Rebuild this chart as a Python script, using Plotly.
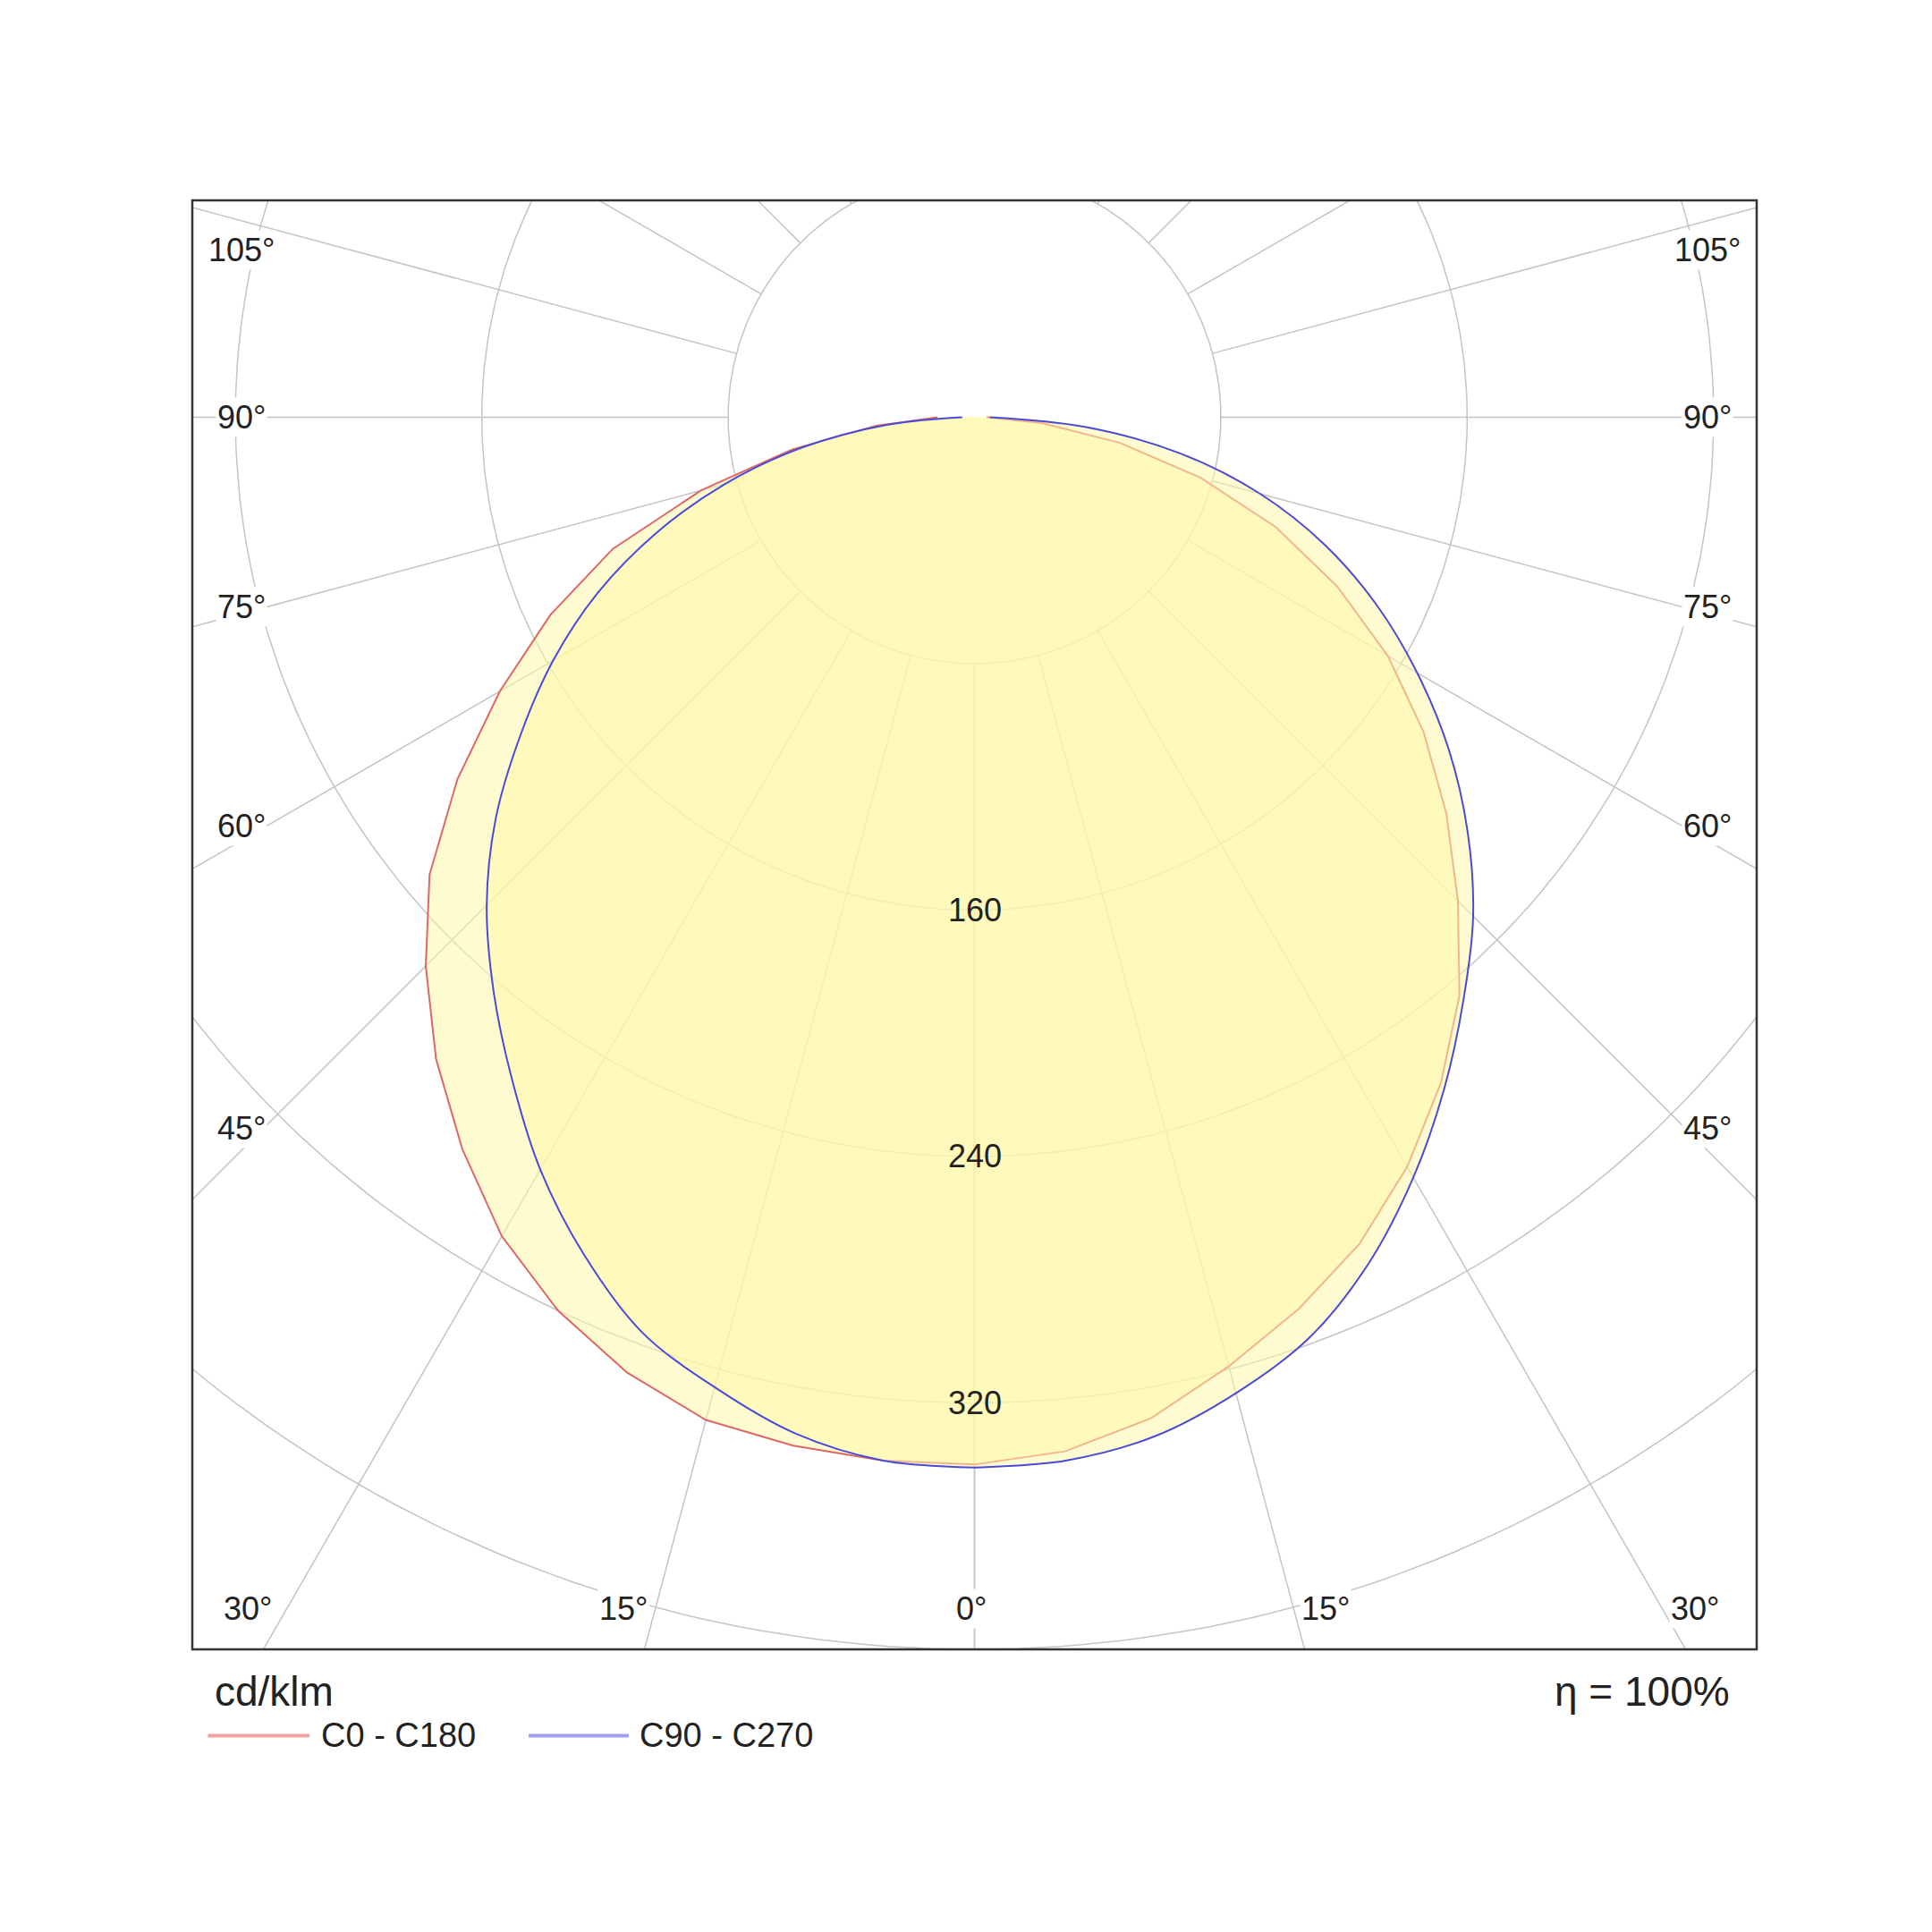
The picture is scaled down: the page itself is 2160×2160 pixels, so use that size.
import numpy as np
import plotly.graph_objects as go

# luminous intensity, cd/klm, gamma from nadir
gamma = [0, 5, 10, 15, 20, 25, 30, 35, 40, 45, 50, 55, 60, 65, 70, 75, 80, 85, 90]
c180 = [340, 340, 339, 337, 330, 320, 307, 290, 272, 252, 231, 205, 178, 152, 125, 92, 60, 32, 12]
c0 = [340, 337, 330, 319, 308, 296, 281, 264, 245, 222, 200, 178, 155, 130, 104, 76, 48, 22, 4]
c270 = [341, 340, 335, 326, 316, 300, 282, 262, 243, 224, 203, 180, 158, 135, 110, 84, 57, 29, 4]
c90 = [341, 340, 336, 328, 318, 303, 285, 266, 247, 229, 209, 188, 166, 144, 121, 96, 68, 36, 5]

rings = [80, 160, 240, 320, 400, 480]
ring_labels = [160, 240, 320]
spokes = list(range(0, 181, 15))

fig = go.Figure()

# grid
t = np.linspace(0, 2 * np.pi, 361)
for r in rings:
    fig.add_trace(go.Scatter(x=r * np.sin(t), y=r * np.cos(t), mode="lines",
                             line=dict(color="#c4c4c4", width=1.5), hoverinfo="skip"))
for g in spokes:
    a = np.radians(g)
    for sgn in (-1, 1):
        fig.add_trace(go.Scatter(x=[sgn * 80 * np.sin(a), sgn * 700 * np.sin(a)],
                                 y=[-80 * np.cos(a), -700 * np.cos(a)], mode="lines",
                                 line=dict(color="#c4c4c4", width=1.5), hoverinfo="skip"))


def curve(left, right):
    g = np.radians(np.array(gamma))
    gl = g[::-1]
    rl = np.array(left)[::-1]
    rr = np.array(right)
    x = np.concatenate([-rl * np.sin(gl), rr * np.sin(g)])
    y = np.concatenate([-rl * np.cos(gl), -rr * np.cos(g)])
    return x, y


for left, right, col, shape in [(c180, c0, "#e06666", "linear"),
                                (c270, c90, "#4a4ad8", "spline")]:
    x, y = curve(left, right)
    fig.add_trace(go.Scatter(x=x, y=y, mode="lines", fill="toself",
                             fillcolor="rgba(255,248,170,0.55)",
                             line=dict(color=col, width=2, shape=shape, smoothing=1)))

for v in ring_labels:
    fig.add_annotation(x=0, y=-v, text=str(v), showarrow=False,
                       font=dict(size=36, color="#222"))

side = [(105, 54.4), (90, 0), (75, -61.6), (60, -132.8), (45, -230.8)]
for lab, yy in side:
    fig.add_annotation(x=-238, y=yy, text=f"{lab}°", showarrow=False, bgcolor="white",
                       font=dict(size=36, color="#222"))
    fig.add_annotation(x=238, y=yy, text=f"{lab}°", showarrow=False, bgcolor="white",
                       font=dict(size=36, color="#222"))
for lab, xx in [(30, -236), (15, -114), (0, -1), (15, 114), (30, 234)]:
    fig.add_annotation(x=xx, y=-386.8, text=f"{lab}°", showarrow=False, bgcolor="white",
                       font=dict(size=36, color="#222"))

# frame
fig.add_shape(type="rect", xref="paper", yref="paper", x0=0, y0=0, x1=1, y1=1,
              line=dict(color="#333", width=2.5))

# legend / footer
fig.add_annotation(xref="paper", yref="paper", x=0.013, y=-0.029, text="cd/klm",
                   showarrow=False, xanchor="left", yanchor="middle",
                   font=dict(size=46, color="#222"))
fig.add_annotation(xref="paper", yref="paper", x=0.984, y=-0.029, text="η = 100%",
                   showarrow=False, xanchor="right", yanchor="middle",
                   font=dict(size=46, color="#222"))
for x0, x1, col, txt in [(0.01, 0.075, "#f0a0a0", "C0 - C180"),
                         (0.215, 0.279, "#a0a0f0", "C90 - C270")]:
    fig.add_shape(type="line", xref="paper", yref="paper", x0=x0, x1=x1,
                  y0=-0.0595, y1=-0.0595, line=dict(color=col, width=4))
    fig.add_annotation(xref="paper", yref="paper", x=x1 + 0.006, y=-0.0595, text=txt,
                       showarrow=False, xanchor="left", yanchor="middle",
                       font=dict(size=38, color="#222"))

fig.update_xaxes(range=[-254, 254], visible=False)
fig.update_yaxes(range=[-400, 70.4], visible=False)
fig.update_layout(width=2160, height=2160, showlegend=False,
                  margin=dict(l=207, r=204, t=216, b=324),
                  plot_bgcolor="white", paper_bgcolor="white",
                  font=dict(family="Liberation Sans"))

fig.write_html("out.html")
